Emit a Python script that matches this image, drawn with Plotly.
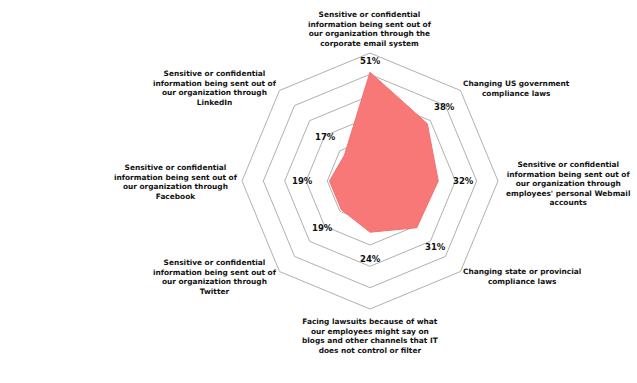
import numpy as np
import plotly.graph_objects as go

categories = [
    "Sensitive or confidential<br>information being sent out of<br>our organization through the<br>corporate email system",
    "Changing US government<br>compliance laws",
    "Sensitive or confidential<br>information being sent out of<br>our organization through<br>employees' personal Webmail<br>accounts",
    "Changing state or provincial<br>compliance laws",
    "Facing lawsuits because of what<br>our employees might say on<br>blogs and other channels that IT<br>does not control or filter",
    "Sensitive or confidential<br>information being sent out of<br>our organization through<br>Twitter",
    "Sensitive or confidential<br>information being sent out of<br>our organization through<br>Facebook",
    "Sensitive or confidential<br>information being sent out of<br>our organization through<br>LinkedIn",
]
values = [51, 38, 32, 31, 24, 19, 19, 17]
value_labels = [f"{v}%" for v in values]

W, H = 637, 383
CX, CY, R = 370, 181, 128
RMAX = 60
# pixel gap between each point and its value label (style)
label_gap = [11, 24, 25, 27, 27, 26, 27, 26]

fig = go.Figure()
fig.add_trace(go.Scatterpolar(
    r=values + [values[0]],
    theta=categories + [categories[0]],
    mode="lines",
    fill="toself",
    fillcolor="#F87878",
    line=dict(color="#F07272", width=1),
    hoverinfo="skip",
    showlegend=False,
))

annotations = []
n = len(values)
for i, (v, lab) in enumerate(zip(values, value_labels)):
    ang = np.pi / 2 - 2 * np.pi * i / n
    rp = v / RMAX * R + label_gap[i]
    px = CX + rp * np.cos(ang)
    py = CY - rp * np.sin(ang)
    annotations.append(dict(
        x=px / W, y=1 - py / H, xref="paper", yref="paper",
        text="<b>" + lab + "</b>", showarrow=False, xanchor="center", yanchor="middle",
        font=dict(family="DejaVu Sans", size=8.5, color="#111111"),
    ))

label_pos = [(370, 29), (516, 88), (568, 184), (522, 276),
             (370, 336), (215, 277), (176, 182), (215, 88)]
for txt, (px, py) in zip(categories, label_pos):
    annotations.append(dict(
        x=px / W, y=1 - py / H, xref="paper", yref="paper",
        text="<b>" + txt + "</b>", showarrow=False,
        xanchor="center", yanchor="middle", align="center",
        font=dict(family="DejaVu Sans", size=7.4, color="#111111"),
    ))

fig.update_layout(
    width=W, height=H,
    margin=dict(l=0, r=0, t=0, b=0),
    paper_bgcolor="white",
    plot_bgcolor="white",
    polar=dict(
        domain=dict(x=[(CX - R) / W, (CX + R) / W],
                    y=[(H - CY - R) / H, (H - CY + R) / H]),
        gridshape="linear",
        bgcolor="white",
        radialaxis=dict(range=[0, RMAX], dtick=10, showticklabels=False,
                        ticks="", showline=False, gridcolor="#B0B0B0",
                        gridwidth=1),
        angularaxis=dict(rotation=90, direction="clockwise",
                         showticklabels=False, ticks="", showgrid=False,
                         showline=True, linecolor="#B0B0B0", linewidth=1),
    ),
    annotations=annotations,
    font=dict(family="DejaVu Sans"),
)

fig.write_html("out.html", config={"displayModeBar": False},
               post_script="document.body.style.margin='0px';")
